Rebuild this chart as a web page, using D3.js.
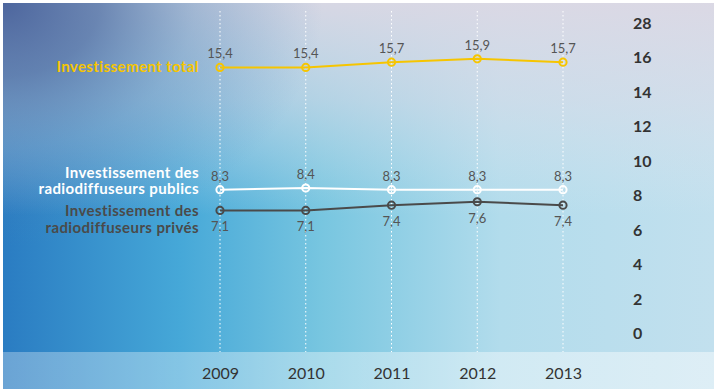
<!DOCTYPE html>
<html>
<head>
<meta charset="utf-8">
<script src="https://cdn.jsdelivr.net/npm/d3@7"></script>
<style>
  html, body { margin: 0; padding: 0; background: #fff; }
  svg { display: block; }
  text { font-family: Lato, "Open Sans", sans-serif; }
</style>
</head>
<body>
<svg id="chart" width="714" height="391"></svg>
<script>
// Investment series (millions), one value per year
const years = ["2009", "2010", "2011", "2012", "2013"];
const totalValues = [15.4, 15.4, 15.7, 15.9, 15.7];
const publicValues = [8.3, 8.4, 8.3, 8.3, 8.3];
const privateValues = [7.1, 7.1, 7.4, 7.6, 7.4];

// Right-hand axis: ticks every 2, the top tick is labelled 28
const tickValues = [0, 2, 4, 6, 8, 10, 12, 14, 16, 18];
const tickLabels = ["0", "2", "4", "6", "8", "10", "12", "14", "16", "28"];

const seriesNames = {
  total: ["Investissement total"],
  public: ["Investissement des", "radiodiffuseurs publics"],
  private: ["Investissement des", "radiodiffuseurs privés"]
};

const svg = d3.select("#chart");
const W = 714, H = 391;

// ---- background ----
const defs = svg.append("defs");
const base = defs.append("linearGradient").attr("id", "bgBase")
  .attr("x1", 0).attr("y1", 0).attr("x2", 1).attr("y2", 0);
[[0, "#2a7cc2"], [0.25, "#46a8d8"], [0.45, "#78c6e0"], [0.7, "#b2dcec"], [1, "#c2e0ee"]]
  .forEach(([o, c]) => base.append("stop").attr("offset", o).attr("stop-color", c));

const topHaze = defs.append("linearGradient").attr("id", "bgTop")
  .attr("x1", 0).attr("y1", 0).attr("x2", 0).attr("y2", 1);
[[0, "#dcd8e4", 0.95], [0.25, "#dcdce8", 0.6], [0.55, "#dde6ef", 0]]
  .forEach(([o, c, a]) => topHaze.append("stop").attr("offset", o).attr("stop-color", c).attr("stop-opacity", a));

const corner = defs.append("radialGradient").attr("id", "bgCorner")
  .attr("cx", 0).attr("cy", 0).attr("r", 0.9)
  .attr("gradientUnits", "objectBoundingBox")
  .attr("gradientTransform", "scale(0.5,0.7)");
[[0, "#46609a", 0.95], [0.3, "#4a6ca2", 0.75], [0.6, "#4a80b4", 0.35], [1, "#4d88bc", 0]]
  .forEach(([o, c, a]) => corner.append("stop").attr("offset", o).attr("stop-color", c).attr("stop-opacity", a));

const bandGrad = defs.append("linearGradient").attr("id", "bandGrad")
  .attr("x1", 0).attr("y1", 0).attr("x2", 1).attr("y2", 0);
[[0, "#ffffff", 0.3], [1, "#ffffff", 0.45]]
  .forEach(([o, c, a]) => bandGrad.append("stop").attr("offset", o).attr("stop-color", c).attr("stop-opacity", a));

const bg = { x: 3, y: 3, w: W - 3, h: H - 5 };
svg.append("rect").attr("x", bg.x).attr("y", bg.y).attr("width", bg.w).attr("height", bg.h).attr("fill", "url(#bgBase)");
svg.append("rect").attr("x", bg.x).attr("y", bg.y).attr("width", bg.w).attr("height", bg.h).attr("fill", "url(#bgTop)");
svg.append("rect").attr("x", bg.x).attr("y", bg.y).attr("width", bg.w).attr("height", bg.h).attr("fill", "url(#bgCorner)");

// ---- scales ----
const x = d3.scalePoint().domain(years).range([220, 563]);
const y = d3.scaleLinear().domain([0, 18]).range([332.7, 22.6]);
const bandTop = 352;

// bottom band behind the year labels
svg.append("rect").attr("x", bg.x).attr("y", bandTop).attr("width", bg.w).attr("height", bg.y + bg.h - bandTop)
  .attr("fill", "url(#bandGrad)");

// dotted year guides
svg.append("g").selectAll("line").data(years).join("line")
  .attr("x1", d => x(d)).attr("x2", d => x(d))
  .attr("y1", 11).attr("y2", bandTop)
  .attr("stroke", "#ffffff").attr("stroke-width", 1)
  .attr("stroke-dasharray", "1.5,2.5");

// year axis
const xAxis = svg.append("g").attr("transform", `translate(0,${bandTop})`)
  .call(d3.axisBottom(x).tickSize(0).tickPadding(0));
xAxis.select(".domain").remove();
xAxis.selectAll("text")
  .attr("dy", null).attr("y", 27)
  .attr("font-size", 16).attr("fill", "#333")
  .style("font-family", "Lato, sans-serif");

// value axis on the right
const yAxis = svg.append("g").attr("transform", "translate(633,0)")
  .call(d3.axisRight(y).tickValues(tickValues).tickSize(0).tickPadding(0)
    .tickFormat((d, i) => tickLabels[i]));
yAxis.select(".domain").remove();
yAxis.selectAll("text")
  .attr("font-size", 16).attr("font-weight", "bold").attr("fill", "#333")
  .attr("dy", "0.36em")
  .style("font-family", "Lato, sans-serif");

// ---- series ----
const series = [
  { key: "total", values: totalValues, color: "#f6c500", labelDy: -9, nameColor: "#f6c500" },
  { key: "public", values: publicValues, color: "#ffffff", labelDy: -9, nameColor: "#ffffff" },
  { key: "private", values: privateValues, color: "#4a4a4a", labelDy: 21, nameColor: "#4a4a4a" }
];

const line = d3.line().x((d, i) => x(years[i])).y(d => y(d));
const fmt = v => d3.format(".1f")(v).replace(".", ",");

series.forEach(s => {
  const g = svg.append("g");
  g.append("path").attr("d", line(s.values))
    .attr("fill", "none").attr("stroke", s.color).attr("stroke-width", 2);
  g.selectAll("circle").data(s.values).join("circle")
    .attr("cx", (d, i) => x(years[i])).attr("cy", d => y(d)).attr("r", 3.6)
    .attr("fill", "none").attr("stroke", s.color).attr("stroke-width", 2);
  g.selectAll("text.val").data(s.values).join("text").attr("class", "val")
    .attr("x", (d, i) => x(years[i])).attr("y", d => y(d) + s.labelDy)
    .attr("text-anchor", "middle").attr("font-size", 13).attr("fill", "#555")
    .text(fmt);

  // series name, right-aligned to the left of the first point
  const names = seriesNames[s.key];
  const firstY = y(s.values[0]);
  const lineH = 16.5;
  let startY;
  if (s.key === "total") startY = firstY + 5;
  else if (s.key === "public") startY = firstY - 12;
  else startY = firstY + 6;
  g.selectAll("text.name").data(names).join("text").attr("class", "name")
    .attr("x", 199).attr("y", (d, i) => startY + i * lineH)
    .attr("text-anchor", "end").attr("font-size", 15).attr("font-weight", "bold")
    .attr("letter-spacing", 0.4)
    .attr("fill", s.nameColor)
    .text(d => d);
});
</script>
</body>
</html>
